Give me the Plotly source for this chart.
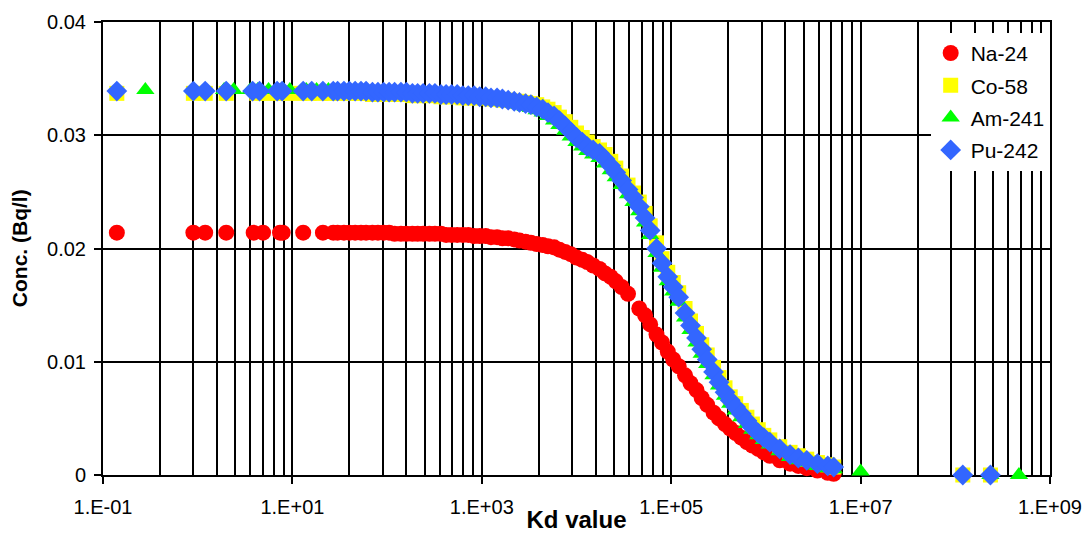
import plotly.graph_objects as go

# ---------------- data ----------------
# Na-24
na_kd = [0.14, 0.9, 1.2, 2.0, 3.9, 4.9, 7.4, 7.9, 13, 21, 27,
         30, 35, 40, 46, 53, 60, 70, 80, 92, 105, 120, 140, 160, 185, 210, 240, 280, 320, 370,
         420, 480, 550, 630, 720, 830, 950, 1100, 1250, 1450, 1650, 1900, 2200, 2500, 2900, 3300,
         3800, 4400, 5000, 5800, 6600, 7600, 8700, 1.0e4, 1.15e4, 1.3e4, 1.5e4, 1.75e4, 2.0e4,
         2.3e4, 2.6e4, 3.0e4, 3.5e4, 4.6e4, 5.3e4, 6.0e4, 7.0e4, 8.0e4, 9.2e4, 1.05e5, 1.2e5,
         1.4e5, 1.6e5, 1.85e5, 2.1e5, 2.4e5, 2.8e5, 3.2e5, 3.7e5, 4.2e5, 4.8e5, 5.5e5, 6.3e5,
         7.2e5, 8.3e5, 9.5e5, 1.1e6, 1.4e6, 1.8e6, 2.2e6, 2.7e6, 3.5e6, 4.5e6, 5.2e6]
na_conc = [0.0214, 0.0214, 0.0214, 0.0214, 0.0214, 0.0214, 0.0214, 0.0214, 0.0214, 0.0214, 0.0214,
           0.0214, 0.0214, 0.0214, 0.0214, 0.0214, 0.0214, 0.0214, 0.0214, 0.0214, 0.0214, 0.0213,
           0.0213, 0.0213, 0.0213, 0.0213, 0.0213, 0.0213, 0.0213, 0.0213,
           0.0212, 0.0212, 0.0212, 0.0212, 0.0212, 0.0211, 0.0211, 0.0211, 0.0210, 0.0210, 0.0209,
           0.0209, 0.0208, 0.0207, 0.0206, 0.0205,
           0.0204, 0.0203, 0.0202, 0.0201, 0.0199, 0.0197, 0.0195, 0.0192, 0.0190, 0.0188, 0.0185,
           0.0182, 0.0178,
           0.0175, 0.0171, 0.0166, 0.0160, 0.0147, 0.0141, 0.0133, 0.0124, 0.0117, 0.0109, 0.0102,
           0.0096,
           0.0088, 0.0081, 0.0075, 0.0068, 0.0062, 0.0055, 0.0050, 0.0045, 0.0041, 0.0037, 0.0033,
           0.0029,
           0.0026, 0.0023, 0.0020, 0.0017, 0.0013, 0.0010, 0.0008, 0.0006, 0.0004, 0.0002, 0.0001]

# shared dense Kd grid for the three actinides
act_kd = [30, 35, 40, 46, 53, 60, 70, 80, 92, 105, 120, 140, 160, 185, 210, 240, 280, 320, 370,
          420, 480, 550, 630, 720, 830, 950, 1100, 1250, 1450, 1650, 1900, 2200, 2500, 2900, 3300,
          3800, 4400, 5000, 5800, 6600, 7600, 8700, 1.0e4, 1.15e4, 1.3e4, 1.5e4, 1.75e4, 2.0e4,
          2.3e4, 2.6e4, 3.0e4, 3.5e4, 4.0e4, 4.6e4, 5.3e4, 6.0e4, 7.0e4, 8.0e4, 9.2e4, 1.05e5,
          1.2e5, 1.4e5, 1.6e5, 1.85e5, 2.1e5, 2.4e5, 2.8e5, 3.2e5, 3.7e5, 4.2e5, 4.8e5, 5.5e5,
          6.3e5, 7.2e5, 8.3e5, 9.5e5, 1.1e6, 1.4e6, 1.8e6, 2.2e6, 2.7e6, 3.5e6, 4.5e6, 5.2e6]

# Co-58
co_kd_low = [0.14, 0.9, 1.2, 2.0, 4.2, 5.0, 7.0, 8.5, 12, 15, 20, 25]
co_conc_low = [0.0337] * 12
co_kd_high = [1.2e8, 2.35e8]
co_conc_high = [0.0, 0.0]
co_conc = [0.0337, 0.0337, 0.0337, 0.0337, 0.0337, 0.0337, 0.0336, 0.0336, 0.0336,
           0.0336, 0.0336, 0.0336, 0.0336, 0.0335, 0.0335, 0.0335, 0.0335, 0.0335, 0.0334,
           0.0334, 0.0334, 0.0334, 0.0333, 0.0333, 0.0333, 0.0333,
           0.0333, 0.0332, 0.0332, 0.0331, 0.0331, 0.0330, 0.0330, 0.0329, 0.0328, 0.0327,
           0.0325, 0.0323, 0.0320, 0.0316, 0.0312, 0.0307,
           0.0302, 0.0298, 0.0294, 0.0290, 0.0287, 0.0283, 0.0277, 0.0271, 0.0264, 0.0256,
           0.0249, 0.0241, 0.0231, 0.0220, 0.0205, 0.0191, 0.0179,
           0.0170, 0.0161, 0.0147, 0.0136, 0.0125, 0.0115, 0.0106, 0.0095, 0.0086, 0.0077,
           0.0069, 0.0063, 0.0057, 0.0051, 0.0045, 0.0040, 0.0035,
           0.0031, 0.0025, 0.0020, 0.0017, 0.0014, 0.0011, 0.0009, 0.0007]

# Am-241
am_kd_low = [0.28, 1.9, 2.4, 3.6, 4.3, 5.6, 8.0, 9.4, 14, 18, 24]
am_conc_low = [0.0340] * 11
am_kd_high = [1.0e7, 2.35e8, 4.7e8]
am_conc_high = [0.0003, 0.0, 0.0]
am_conc = [0.0339, 0.0340, 0.0339, 0.0339, 0.0339, 0.0339, 0.0339, 0.0338, 0.0338,
           0.0338, 0.0338, 0.0338, 0.0338, 0.0337, 0.0337, 0.0337, 0.0337, 0.0336, 0.0336,
           0.0336, 0.0335, 0.0335, 0.0334, 0.0334, 0.0333, 0.0333,
           0.0332, 0.0331, 0.0331, 0.0330, 0.0329, 0.0328, 0.0327, 0.0325, 0.0324, 0.0322,
           0.0320, 0.0317, 0.0313, 0.0309, 0.0304, 0.0299,
           0.0294, 0.0290, 0.0286, 0.0283, 0.0280, 0.0275, 0.0269, 0.0263, 0.0256, 0.0248,
           0.0241, 0.0233, 0.0223, 0.0212, 0.0196, 0.0183, 0.0171,
           0.0162, 0.0153, 0.0139, 0.0128, 0.0117, 0.0107, 0.0098, 0.0088, 0.0079, 0.0070,
           0.0063, 0.0057, 0.0051, 0.0045, 0.0040, 0.0035, 0.0031,
           0.0027, 0.0021, 0.0016, 0.0013, 0.0011, 0.0008, 0.0006, 0.0005]

# Pu-242
pu_kd_low = [0.14, 0.9, 1.2, 2.0, 3.8, 4.5, 6.9, 7.8, 13, 16, 21, 27]
pu_conc_low = [0.0339] * 12
pu_kd_high = [1.2e8, 2.35e8]
pu_conc_high = [0.0, 0.0]
pu_conc = [0.0339, 0.0339, 0.0339, 0.0339, 0.0339, 0.0339, 0.0338, 0.0338, 0.0338,
           0.0338, 0.0338, 0.0338, 0.0338, 0.0337, 0.0337, 0.0337, 0.0337, 0.0337, 0.0336,
           0.0336, 0.0336, 0.0336, 0.0335, 0.0335, 0.0335, 0.0334,
           0.0334, 0.0333, 0.0333, 0.0332, 0.0331, 0.0330, 0.0329, 0.0328, 0.0327, 0.0325,
           0.0323, 0.0320, 0.0317, 0.0313, 0.0308, 0.0303,
           0.0298, 0.0294, 0.0290, 0.0287, 0.0284, 0.0279, 0.0273, 0.0267, 0.0260, 0.0252,
           0.0245, 0.0237, 0.0227, 0.0216, 0.0200, 0.0187, 0.0175,
           0.0166, 0.0157, 0.0143, 0.0132, 0.0121, 0.0111, 0.0102, 0.0091, 0.0082, 0.0073,
           0.0066, 0.0060, 0.0054, 0.0048, 0.0042, 0.0037, 0.0033,
           0.0029, 0.0023, 0.0018, 0.0015, 0.0013, 0.0010, 0.0008, 0.0007]

x_tickvals = [0.1, 10, 1e3, 1e5, 1e7, 1e9]
x_ticktext = ["1.E-01", "1.E+01", "1.E+03", "1.E+05", "1.E+07", "1.E+09"]
x_minorvals = [m * k * k for m in [0.1, 10, 1e3, 1e5, 1e7] for k in range(2, 10)]
y_tickvals = [0, 0.01, 0.02, 0.03, 0.04]
y_ticktext = ["0", "0.01", "0.02", "0.03", "0.04"]

FONT = "Arial, Liberation Sans, sans-serif"

fig = go.Figure()
fig.add_trace(go.Scatter(x=na_kd, y=na_conc, mode="markers", name="Na-24", legendgroup="a",
                         marker=dict(symbol="circle", size=16, color="#FF0000", line=dict(width=0)),
                         cliponaxis=False))
fig.add_trace(go.Scatter(x=co_kd_low + act_kd + co_kd_high, y=co_conc_low + co_conc + co_conc_high,
                         mode="markers", name="Co-58", legendgroup="b",
                         marker=dict(symbol="square", size=15, color="#FFFF00", line=dict(width=0)),
                         cliponaxis=False))
fig.add_trace(go.Scatter(x=am_kd_low + act_kd + am_kd_high, y=am_conc_low + am_conc + am_conc_high,
                         mode="markers", name="Am-241", legendgroup="c",
                         marker=dict(symbol="triangle-up", size=16, color="#00FF00", line=dict(width=0)),
                         cliponaxis=False))
fig.add_trace(go.Scatter(x=pu_kd_low + act_kd + pu_kd_high, y=pu_conc_low + pu_conc + pu_conc_high,
                         mode="markers", name="Pu-242", legendgroup="d",
                         marker=dict(symbol="diamond", size=16, color="#3366FF", line=dict(width=0)),
                         cliponaxis=False))

fig.update_layout(
    width=1085, height=533,
    margin=dict(l=103, r=35, t=22, b=58),
    paper_bgcolor="white", plot_bgcolor="white",
    font=dict(family=FONT, color="black", size=20),
    showlegend=True,
    legend=dict(x=0.874, y=0.976, xanchor="left", yanchor="top",
                bgcolor="white", borderwidth=0, tracegroupgap=2,
                font=dict(family=FONT, size=21, color="black")),
    xaxis=dict(type="log", range=[-1, 9], automargin=False,
               tickmode="array", tickvals=x_tickvals, ticktext=x_ticktext,
               ticks="outside", ticklen=7, tickwidth=2, tickcolor="black",
               ticklabelstandoff=6,
               showgrid=True, gridcolor="black", gridwidth=2,
               minor=dict(tickvals=x_minorvals, showgrid=True, gridcolor="black", gridwidth=2, ticks=""),
               showline=True, linecolor="black", linewidth=2, mirror=True,
               zeroline=False, layer="below traces",
               tickfont=dict(size=20),
               title=dict(text="<b>Kd value</b>", font=dict(size=24), standoff=8)),
    yaxis=dict(range=[0, 0.04], automargin=False,
               tickmode="array", tickvals=y_tickvals, ticktext=y_ticktext,
               ticks="outside", ticklen=7, tickwidth=2, tickcolor="black",
               ticklabelstandoff=4,
               showgrid=True, gridcolor="black", gridwidth=2,
               showline=True, linecolor="black", linewidth=2, mirror=True,
               zeroline=False, layer="below traces",
               tickfont=dict(size=20)),
    annotations=[dict(text="<b>Conc. (Bq/l)</b>", textangle=-90, showarrow=False,
                      xref="paper", yref="paper", x=-0.088, y=0.5,
                      xanchor="center", yanchor="middle",
                      font=dict(family=FONT, size=21, color="black"))],
)

fig.write_html("out.html")
